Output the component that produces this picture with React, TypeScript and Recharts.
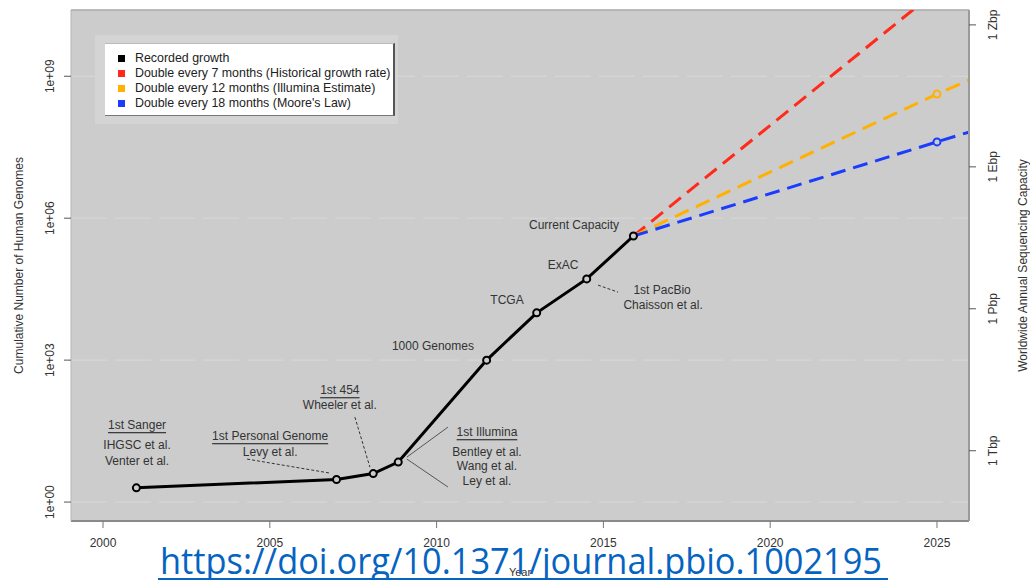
import React from "react";
import {
  LineChart,
  Line,
  XAxis,
  YAxis,
  CartesianGrid,
  ReferenceDot,
  ReferenceLine,
  Legend,
} from "recharts";

// ---------- data ----------
const recordedYears = [2001, 2007, 2008.1, 2008.85, 2011.5, 2013, 2014.5, 2015.9];
const recordedGenomes = [2, 3, 4, 7, 1000, 10000, 52000, 420000];

const projectionYears = [2015.9, 2025, 2025.96];
const projection7Months = [420000, 6.5e10, 2.3e11];
const projection12Months = [420000, 4.2e8, 8.3e8];
const projection18Months = [420000, 4.1e7, 6.6e7];

const xTicks = [2000, 2005, 2010, 2015, 2020, 2025];
const leftTicks = [1, 1e3, 1e6, 1e9];
const leftTickLabels = ["1e+00", "1e+03", "1e+06", "1e+09"];
const rightTicks = [1e12, 1e15, 1e18, 1e21];
const rightTickLabels = ["1 Tbp", "1 Pbp", "1 Ebp", "1 Zbp"];

const legendLabels = [
  "Recorded growth",
  "Double every 7 months (Historical growth rate)",
  "Double every 12 months (Illumina Estimate)",
  "Double every 18 months (Moore's Law)",
];
const legendColors = ["#000000", "#ff2a1a", "#ffb000", "#1a3cff"];

// annotation text lines
const annotationYears = [2001.02, 2001.02, 2001.02, 2005.01, 2005.01, 2007.1, 2007.1, 2011.51, 2011.51, 2011.51, 2011.51, 2009.89, 2012.11, 2013.79, 2016.76, 2016.79, 2014.12];
const annotationValues = [42.4, 16.0, 7.35, 24.8, 11.4, 232, 112, 30.1, 11.4, 5.76, 2.78, 1977, 18530, 101700, 30140, 14520, 712800];
const annotationTexts = [
  "1st Sanger", "IHGSC et al.", "Venter et al.",
  "1st Personal Genome", "Levy et al.",
  "1st 454", "Wheeler et al.",
  "1st Illumina", "Bentley et al.", "Wang et al.", "Ley et al.",
  "1000 Genomes", "TCGA", "ExAC",
  "1st PacBio", "Chaisson et al.", "Current Capacity",
];
const annotationUnderlined = [true, false, false, true, false, true, false, true, false, false, false, false, false, false, false, false, false];

// leader segments
const leaderX1 = [2004.32, 2007.55, 2009.11, 2009.11, 2014.84];
const leaderY1 = [8.1, 62.5, 8.93, 8.1, 38460];
const leaderX2 = [2006.8, 2008.0, 2010.34, 2010.34, 2015.44];
const leaderY2 = [4.1, 5.49, 38.4, 2.08, 27350];
const leaderDashed = [true, true, false, false, true];

// ---------- derived tables ----------
const recordedData = recordedYears.map((year, i) => ({ year, value: recordedGenomes[i] }));
const red = projectionYears.map((year, i) => ({ year, value: projection7Months[i] }));
const orange = projectionYears.map((year, i) => ({ year, value: projection12Months[i] }));
const blue = projectionYears.map((year, i) => ({ year, value: projection18Months[i] }));

const FONT = "'Liberation Sans', Arial, Helvetica, sans-serif";
const TXT = "#333333";
const BG = "#cccccc";

const yDomainLeft = [Math.pow(10, -0.4), Math.pow(10, 10.4)];
const yDomainRight = [Math.pow(10, 10.515), Math.pow(10, 21.315)];

const LeftTick = (props: any) => {
  const { x, y, payload } = props;
  const i = leftTicks.indexOf(payload.value);
  const cx = x - 12;
  return (
    <text x={cx} y={y} transform={`rotate(-90, ${cx}, ${y})`} textAnchor="middle" dominantBaseline="central" fontSize={12} fill={TXT} fontFamily={FONT}>
      {i >= 0 ? leftTickLabels[i] : ""}
    </text>
  );
};

const RightTick = (props: any) => {
  const { x, y, payload } = props;
  const i = rightTicks.indexOf(payload.value);
  const cx = x + 15;
  return (
    <text x={cx} y={y} transform={`rotate(-90, ${cx}, ${y})`} textAnchor="middle" dominantBaseline="central" fontSize={12} fill={TXT} fontFamily={FONT}>
      {i >= 0 ? rightTickLabels[i] : ""}
    </text>
  );
};

const BottomTick = (props: any) => {
  const { x, y, payload } = props;
  return (
    <text x={x} y={y + 13} textAnchor="middle" dominantBaseline="central" fontSize={12} fill={TXT} fontFamily={FONT}>
      {payload.value}
    </text>
  );
};

const AxisTitle = (props: any) => {
  const { viewBox, text, side } = props;
  if (!viewBox) return null;
  if (side === "bottom") {
    const cx = viewBox.x + viewBox.width / 2;
    const cy = viewBox.y + 51;
    return (
      <text x={cx} y={cy} textAnchor="middle" dominantBaseline="central" fontSize={11} fill={TXT} fontFamily={FONT}>
        {text}
      </text>
    );
  }
  const cx = side === "left" ? viewBox.x + 8 : viewBox.x + 54;
  const cy = viewBox.y + viewBox.height / 2;
  return (
    <text x={cx} y={cy} transform={`rotate(-90, ${cx}, ${cy})`} textAnchor="middle" dominantBaseline="central" fontSize={12} fill={TXT} fontFamily={FONT}>
      {text}
    </text>
  );
};

const LegendBox = () => (
  <div style={{ background: "#d4d4d4", padding: "8px 3px 8px 10px", fontFamily: FONT }}>
    <div
      style={{
        background: "#ffffff",
        width: 290,
        height: 73,
        boxSizing: "border-box",
        borderRight: "2px solid #555",
        borderBottom: "1px solid #777",
        borderTop: "1px solid #bbb",
        padding: "7px 0 0 13px",
      }}
    >
      {legendLabels.map((label, i) => (
        <div key={label} style={{ display: "flex", alignItems: "center", height: 15 }}>
          <span style={{ display: "inline-block", width: 7, height: 7, background: legendColors[i], marginRight: 10 }} />
          <span style={{ fontSize: 12.4, color: "#222", whiteSpace: "nowrap", lineHeight: "15px" }}>{label}</span>
        </div>
      ))}
    </div>
  </div>
);

const makeProjectionDot = (color: string) => (p: any) => {
  if (p.index === 1) {
    return <circle key={`d-${color}-${p.index}`} cx={p.cx} cy={p.cy} r={3.5} stroke={color} strokeWidth={2} fill={BG} />;
  }
  return <g key={`d-${color}-${p.index}`} />;
};

export default function App() {
  return (
    <div style={{ position: "absolute", left: 0, top: 0, width: 1030, height: 580, background: "#ffffff", overflow: "hidden" }}>
      <LineChart width={1030} height={580} margin={{ top: 10, left: 11, right: 1, bottom: 19 }}>
        <CartesianGrid yAxisId="left" vertical={false} fill={BG} stroke="#d9d9d9" strokeDasharray="36 8" horizontalValues={leftTicks} />
        <XAxis
          dataKey="year"
          type="number"
          domain={[1999.04, 2025.96]}
          ticks={xTicks}
          allowDataOverflow
          height={40}
          tickSize={7}
          tickMargin={2}
          tickLine={{ stroke: "#777" }}
          axisLine={{ stroke: "#8a8a8a", strokeWidth: 2 }}
          tick={<BottomTick />}
          label={<AxisTitle text="Year" side="bottom" />}
        />
        <YAxis
          yAxisId="left"
          orientation="left"
          scale="log"
          type="number"
          domain={yDomainLeft}
          ticks={leftTicks}
          allowDataOverflow
          width={60}
          tickSize={7}
          tickMargin={2}
          tickLine={{ stroke: "#555" }}
          axisLine={{ stroke: "#b5b5b5" }}
          tick={<LeftTick />}
          label={<AxisTitle text="Cumulative Number of Human Genomes" side="left" />}
        />
        <YAxis
          yAxisId="right"
          orientation="right"
          scale="log"
          type="number"
          domain={yDomainRight}
          ticks={rightTicks}
          allowDataOverflow
          width={60}
          tickSize={7}
          tickMargin={2}
          tickLine={{ stroke: "#555" }}
          axisLine={{ stroke: "#9a9a9a", strokeWidth: 2 }}
          tick={<RightTick />}
          label={<AxisTitle text="Worldwide Annual Sequencing Capacity" side="right" />}
        />
        <ReferenceLine yAxisId="left" y={yDomainLeft[1]} stroke="#a8a8a8" strokeWidth={1.5} ifOverflow="visible" />

        {leaderX1.map((x1, i) => (
          <ReferenceLine
            key={`seg-${i}`}
            yAxisId="left"
            segment={[
              { x: x1, y: leaderY1[i] },
              { x: leaderX2[i], y: leaderY2[i] },
            ]}
            stroke={leaderDashed[i] ? "#333" : "#555"}
            strokeWidth={1}
            strokeDasharray={leaderDashed[i] ? "3 2" : undefined}
          />
        ))}

        {annotationTexts.map((text, i) => (
          <ReferenceDot
            key={`ann-${i}`}
            yAxisId="left"
            x={annotationYears[i]}
            y={annotationValues[i]}
            r={1}
            shape={(p: any) => (
              <text
                x={p.cx}
                y={p.cy}
                textAnchor="middle"
                dominantBaseline="central"
                fontSize={12}
                fill={TXT}
                fontFamily={FONT}
                textDecoration={annotationUnderlined[i] ? "underline" : undefined}
              >
                {text}
              </text>
            )}
          />
        ))}

        <Line yAxisId="left" data={red} dataKey="value" stroke={legendColors[1]} strokeWidth={3} strokeDasharray="15 8" dot={false} isAnimationActive={false} />
        <Line yAxisId="left" data={orange} dataKey="value" stroke={legendColors[2]} strokeWidth={3} strokeDasharray="15 8" dot={makeProjectionDot(legendColors[2])} isAnimationActive={false} />
        <Line yAxisId="left" data={blue} dataKey="value" stroke={legendColors[3]} strokeWidth={3} strokeDasharray="15 8" dot={makeProjectionDot(legendColors[3])} isAnimationActive={false} />
        <Line
          yAxisId="left"
          data={recordedData}
          dataKey="value"
          stroke="#000"
          strokeWidth={3}
          dot={{ r: 3.5, stroke: "#000", strokeWidth: 2, fill: BG }}
          isAnimationActive={false}
        />

        <Legend
          layout="vertical"
          align="center"
          verticalAlign="middle"
          content={<LegendBox />}
          wrapperStyle={{ position: "absolute", left: 95, top: 35, width: "auto", height: "auto" }}
        />
      </LineChart>

      <svg width={1030} height={580} style={{ position: "absolute", left: 0, top: 0, pointerEvents: "none" }}>
        <text x={160} y={574} fontSize={36} fill="#0563C1" fontFamily="'Open Sans', 'Liberation Sans', sans-serif" textLength={722} lengthAdjust="spacingAndGlyphs">
          https://doi.org/10.1371/journal.pbio.1002195
        </text>
        <line x1={158} y1={579} x2={888} y2={579} stroke="#0563C1" strokeWidth={2} />
      </svg>
    </div>
  );
}
